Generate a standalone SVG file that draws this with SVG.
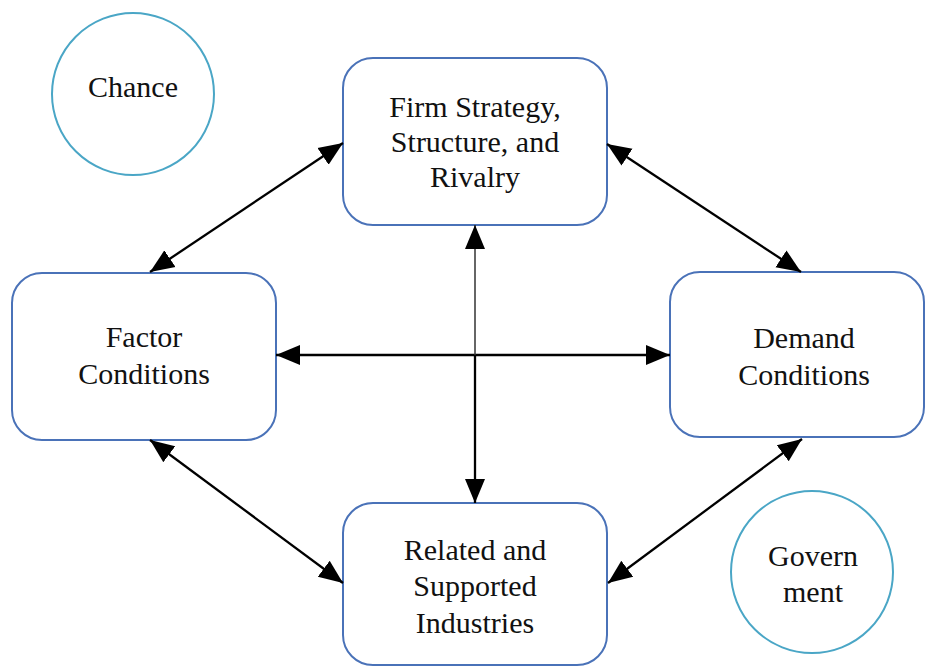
<svg xmlns="http://www.w3.org/2000/svg" width="926" height="668" viewBox="0 0 926 668">
<style>
.box{fill:#fff;stroke:#4a72b8;stroke-width:2}
.circ{fill:#fff;stroke:#4aa6c6;stroke-width:2}
.t{font-family:'Liberation Serif','DejaVu Serif',serif;font-size:30px;fill:#111;text-anchor:middle}
.c{stroke:#000;stroke-width:2.3;fill:none}
</style>
<defs>
<marker id="ah" markerUnits="userSpaceOnUse" markerWidth="26" markerHeight="22" refX="24" refY="11" orient="auto-start-reverse" viewBox="0 0 26 22">
<path d="M0,1 L24,11 L0,21 Z" fill="#000"/>
</marker>
</defs>
<g id="chance">
<circle class="circ" cx="133" cy="94" r="81"/>
<text class="t" x="133" y="97">Chance</text>
</g>
<g id="firm">
<rect class="box" x="343" y="58" width="264" height="167" rx="30"/>
<text class="t" x="475" y="117">Firm Strategy,</text>
<text class="t" x="475" y="152">Structure, and</text>
<text class="t" x="475" y="187">Rivalry</text>
</g>
<g id="factor">
<rect class="box" x="12" y="273" width="264" height="167" rx="30"/>
<text class="t" x="144" y="347">Factor</text>
<text class="t" x="144" y="384">Conditions</text>
</g>
<g id="demand">
<rect class="box" x="670" y="272" width="254" height="165" rx="30"/>
<text class="t" x="804" y="348">Demand</text>
<text class="t" x="804" y="385">Conditions</text>
</g>
<g id="related">
<rect class="box" x="343" y="503" width="264" height="162" rx="30"/>
<text class="t" x="475" y="560">Related and</text>
<text class="t" x="475" y="596">Supported</text>
<text class="t" x="475" y="633">Industries</text>
</g>
<g id="government">
<circle class="circ" cx="812" cy="572" r="81"/>
<text class="t" x="813" y="566">Govern</text>
<text class="t" x="813" y="602">ment</text>
</g>
<g id="connectors">
<line class="c" x1="343" y1="143" x2="150" y2="272" marker-start="url(#ah)" marker-end="url(#ah)"/>
<line class="c" x1="607" y1="144" x2="801" y2="272" marker-start="url(#ah)" marker-end="url(#ah)"/>
<line class="c" x1="276" y1="355" x2="670" y2="355" marker-start="url(#ah)" marker-end="url(#ah)"/>
<line class="c" x1="475" y1="225" x2="475" y2="355" marker-start="url(#ah)" style="stroke-width:1.5;stroke:#333"/>
<line class="c" x1="475" y1="355" x2="475" y2="503" marker-end="url(#ah)"/>
<line class="c" x1="150" y1="440" x2="343" y2="583" marker-start="url(#ah)" marker-end="url(#ah)"/>
<line class="c" x1="802" y1="439" x2="608" y2="583" marker-start="url(#ah)" marker-end="url(#ah)"/>
</g>
</svg>
